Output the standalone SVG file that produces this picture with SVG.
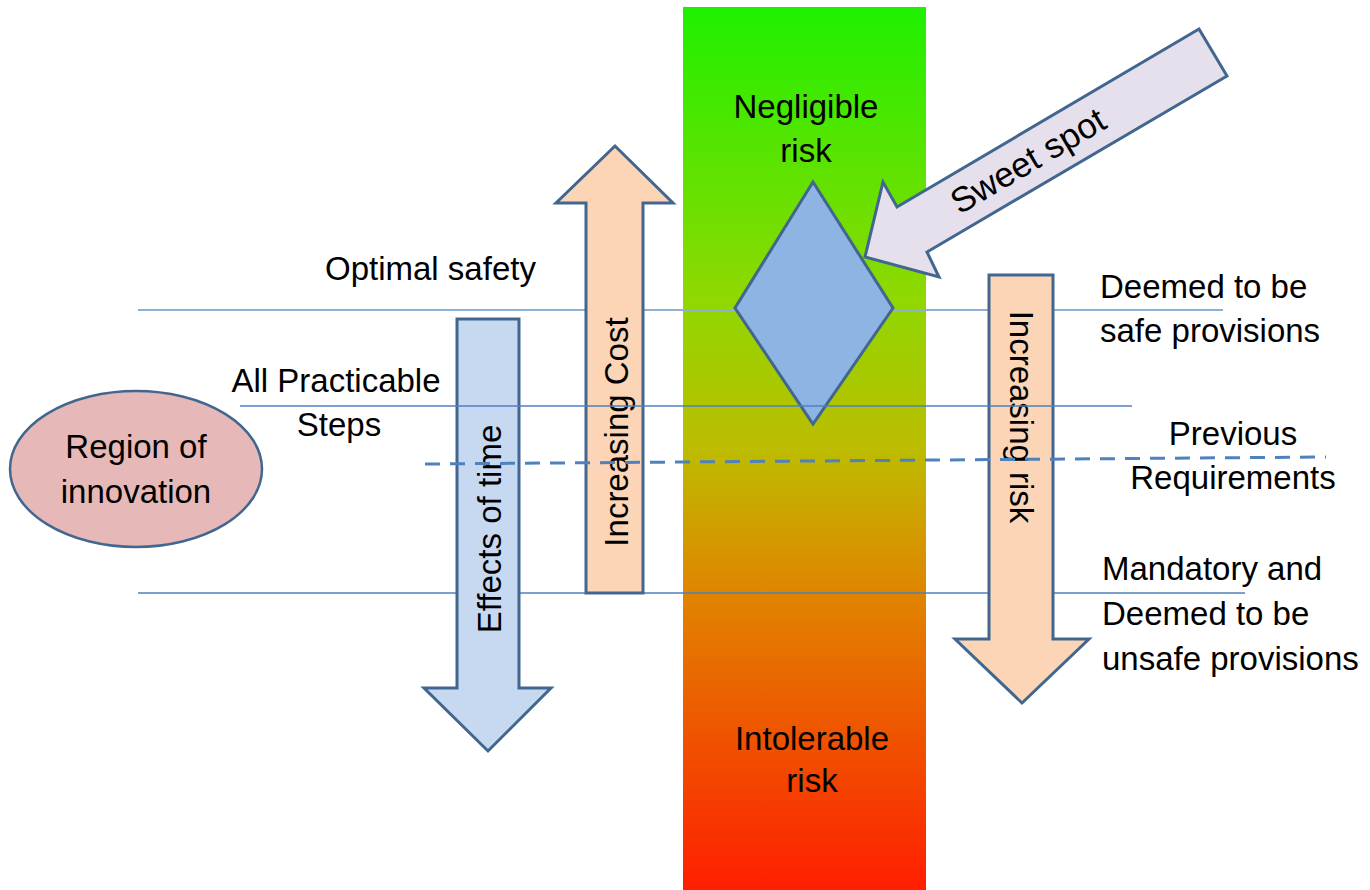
<svg xmlns="http://www.w3.org/2000/svg" width="1370" height="890" viewBox="0 0 1370 890">
<defs>
<linearGradient id="risk" x1="0" y1="0" x2="0" y2="1">
<stop offset="0" stop-color="#1ff000"/>
<stop offset="0.33" stop-color="#90d800"/>
<stop offset="0.5" stop-color="#bcbc00"/>
<stop offset="0.66" stop-color="#e08600"/>
<stop offset="1" stop-color="#ff1e00"/>
</linearGradient>
<style>
.t{font-family:"Liberation Sans",Arial,sans-serif;font-size:33px;fill:#000}
.ln{stroke:#4f81bd;stroke-width:1.6;fill:none}
.lnl{stroke:#8eafd6;stroke-width:2;fill:none}
.dash{stroke:#4f81bd;stroke-width:3;stroke-dasharray:15 10;fill:none}
.sh{stroke:#41668f;stroke-width:3;stroke-linejoin:miter}
</style>
</defs>
<rect width="1370" height="890" fill="#fff"/>
<g id="risk-bar">
<rect x="683" y="7" width="243" height="883" fill="url(#risk)"/>
<text class="t" x="806" y="118" text-anchor="middle">Negligible</text>
<text class="t" x="806" y="162" text-anchor="middle">risk</text>
<text class="t" x="812" y="750" text-anchor="middle">Intolerable</text>
<text class="t" x="812" y="792" text-anchor="middle">risk</text>
</g>
<g id="connectors">
<line class="lnl" x1="138" y1="310" x2="1223" y2="310"/>
<line class="ln" x1="138" y1="593" x2="1245" y2="593"/>
</g>
<g id="effects-of-time">
<polygon class="sh" fill="#c6d9f1" points="457,319 519,319 519,688 551,688 488,751 424,688 457,688"/>
<text class="t" transform="translate(501,529) rotate(-90)" text-anchor="middle">Effects of time</text>
</g>
<g id="increasing-cost">
<polygon class="sh" fill="#fbd5b5" points="586,593 643,593 643,203 673,203 615,146 556,203 586,203"/>
<text class="t" transform="translate(628,432) rotate(-90)" text-anchor="middle">Increasing Cost</text>
</g>
<g id="increasing-risk">
<polygon class="sh" fill="#fbd5b5" points="989,275 1053,275 1053,639 1089,639 1022,703 955,639 989,639"/>
<text class="t" transform="translate(1010,417) rotate(90)" text-anchor="middle">Increasing risk</text>
</g>
<g id="sweet-spot-diamond">
<polygon class="sh" fill="#8eb4e3" points="813,182 893,308 813,424 735,308"/>
</g>
<g id="sweet-spot-arrow">
<polygon class="sh" fill="#e5e0ec" points="1199,29 1227,76 927,252 939,277 865,257 883,182 897,207"/>
<text class="t" style="font-size:35px" transform="translate(1034,171) rotate(-30.6)" text-anchor="middle">Sweet spot</text>
</g>
<g id="connectors-over">
<line class="ln" x1="240" y1="406" x2="1132" y2="406"/>
<line class="dash" x1="425" y1="464" x2="1326" y2="457"/>
</g>
<g id="region-of-innovation">
<ellipse cx="136" cy="469" rx="126" ry="78" fill="#e6b9b8" stroke="#41668f" stroke-width="2.5"/>
<text class="t" x="136" y="458" text-anchor="middle">Region of</text>
<text class="t" x="136" y="503" text-anchor="middle">innovation</text>
</g>
<g id="labels">
<text class="t" x="325" y="280">Optimal safety</text>
<text class="t" x="336" y="392" text-anchor="middle">All Practicable</text>
<text class="t" x="339" y="436" text-anchor="middle">Steps</text>
<text class="t" x="1100" y="298">Deemed to be</text>
<text class="t" x="1100" y="342">safe provisions</text>
<text class="t" x="1233" y="445" text-anchor="middle">Previous</text>
<text class="t" x="1233" y="489" text-anchor="middle">Requirements</text>
<text class="t" x="1102" y="580">Mandatory and</text>
<text class="t" x="1102" y="625">Deemed to be</text>
<text class="t" x="1102" y="670">unsafe provisions</text>
</g>
</svg>
